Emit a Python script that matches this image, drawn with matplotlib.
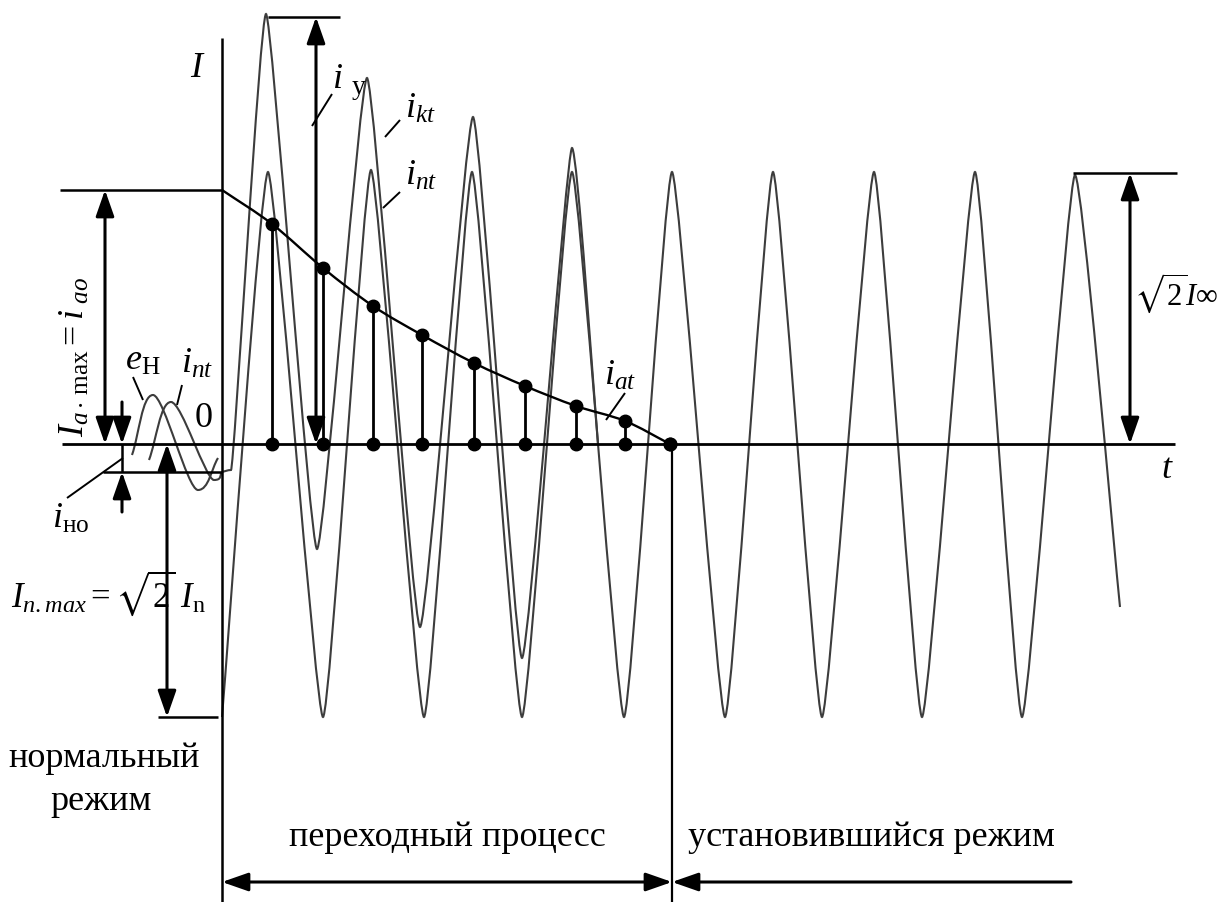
import numpy as np
import matplotlib
matplotlib.use("Agg")
import matplotlib.pyplot as plt
from matplotlib.path import Path
from matplotlib.patches import PathPatch, FancyArrowPatch

plt.rcParams['font.family'] = ['Liberation Serif', 'DejaVu Serif']
plt.rcParams['mathtext.fontset'] = 'custom'
plt.rcParams['mathtext.rm'] = 'Liberation Serif'
plt.rcParams['mathtext.it'] = 'Liberation Serif:italic'
plt.rcParams['mathtext.bf'] = 'Liberation Serif:bold'
plt.rcParams['mathtext.fallback'] = 'stix'

# ---------------- data (pixel-like units) ----------------
ZERO = 444
# pre-fault (normal mode) waves
eH_x = [132, 153, 198, 218]
eH_y = [455, 395, 490, 458]
inpre_x = [149, 171, 214, 222]
inpre_y = [460, 402, 480, 472]
# periodic component i_nt (transient + steady state)
int_x = [222, 268, 323, 371, 424, 472, 522, 572, 624, 672, 725, 773, 822, 874, 922, 975, 1022, 1075, 1120]
int_y = [717, 172, 717, 170, 717, 172, 717, 172, 717, 172, 717, 172, 717, 172, 717, 172, 717, 175, 607]
# total short-circuit current i_kt
ikt_x = [222, 231, 266, 317, 367, 420, 473, 522, 572, 598]
ikt_y = [472, 470, 14, 549, 78, 627, 117, 658, 148, 444]
# aperiodic component i_at
iat_x = [222, 272, 323, 373, 422, 474, 525, 576, 625, 670]
iat_y = [190, 224, 268, 306, 335, 363, 386, 406, 421, 444]
stem_x = iat_x[1:]
stem_y = iat_y[1:]

# --------------------------------------------------------------------------------
fig = plt.figure(figsize=(12.19, 9.02), dpi=100)
ax = fig.add_axes([0, 0, 1, 1])
ax.set_xlim(0, 1219)
ax.set_ylim(902, 0)
ax.axis('off')

WAVE = '#3c3c3c'


def smooth(xs, ys, tension=0.5, horizontal=True, **kw):
    pts = np.column_stack([xs, ys]).astype(float)
    n = len(pts)
    tans = []
    for i in range(n):
        if i == 0:
            t = pts[1] - pts[0]
        elif i == n - 1:
            t = pts[-1] - pts[-2]
        else:
            t = (pts[i + 1] - pts[i - 1]) / 2.0
            if horizontal:
                t = np.array([t[0], 0.0])
        tans.append(t)
    verts = [pts[0]]
    codes = [Path.MOVETO]
    for i in range(n - 1):
        c1 = pts[i] + tension * tans[i] / 3.0
        c2 = pts[i + 1] - tension * tans[i + 1] / 3.0
        verts += [c1, c2, pts[i + 1]]
        codes += [Path.CURVE4] * 3
    ax.add_patch(PathPatch(Path(verts, codes), fill=False, **kw))


def arrow(p0, p1, style='<|-|>', lw=2.2):
    ax.add_patch(FancyArrowPatch(p0, p1, arrowstyle=style + ',head_length=0.8,head_width=0.28',
                                 mutation_scale=20, shrinkA=0, shrinkB=0,
                                 color='black', lw=lw))


def line(x, y, lw=1.6, c='black'):
    ax.plot(x, y, color=c, lw=lw, solid_capstyle='butt')

# waves
smooth(int_x, int_y, tension=0.42, edgecolor=WAVE, lw=1.5)
smooth(ikt_x, ikt_y, tension=0.42, edgecolor=WAVE, lw=1.5)
smooth(eH_x, eH_y, tension=1.0, edgecolor=WAVE, lw=1.5)
smooth(inpre_x, inpre_y, tension=1.0, edgecolor=WAVE, lw=1.5)
smooth(iat_x, iat_y, tension=1.0, horizontal=False, edgecolor='black', lw=1.7)

# axes and helper lines
line([62, 1175], [ZERO, ZERO], lw=2.0)
line([222, 222], [38, 902], lw=1.8)
line([672, 672], [ZERO, 902], lw=1.6)
line([60, 222], [190, 190], lw=1.8)
line([103, 222], [472, 472], lw=1.8)
line([158, 218], [717, 717], lw=1.8)
line([268, 340], [17, 17], lw=1.8)
line([1073, 1177], [173, 173], lw=1.8)
line([122, 122], [ZERO, 472], lw=1.8)

# stems of i_at
for xs, ys in zip(stem_x, stem_y):
    line([xs, xs], [ys, ZERO], lw=2.0)
ax.plot(stem_x, stem_y, 'o', color='black', ms=9)
ax.plot(stem_x, [ZERO] * len(stem_x), 'o', color='black', ms=9)

# arrows
arrow((316, 17), (316, ZERO))
arrow((105, 190), (105, ZERO))
arrow((167, ZERO), (167, 717))
arrow((1130, 173), (1130, ZERO))
arrow((122, 402), (122, ZERO), style='-|>')
arrow((122, 512), (122, 472), style='-|>')
arrow((222, 882), (672, 882))
arrow((1071, 882), (672, 882), style='-|>')

# leader lines
for (x0, y0, x1, y1) in [(312, 126, 332, 94), (385, 137, 400, 120), (383, 208, 400, 192),
                         (606, 420, 625, 393), (133, 377, 143, 400), (182, 385, 177, 405),
                         (67, 498, 123, 458)]:
    line([x0, x1], [y0, y1], lw=1.4)

FS = 26
# labels
ax.text(196, 77, 'I', fontsize=FS, style='italic', ha='center', va='baseline')
ax.text(338, 88, 'i', fontsize=FS, style='italic', ha='center', va='baseline')
ax.text(359, 94, 'у', fontsize=20, ha='center', va='baseline')
ax.text(405, 118, r'$i_{kt}$', fontsize=FS, ha='left', va='baseline')
ax.text(405, 185, r'$i_{nt}$', fontsize=FS, ha='left', va='baseline')
ax.text(604, 385, r'$i_{at}$', fontsize=FS, ha='left', va='baseline')
ax.text(125, 370, r'$e_{\mathrm{Н}}$', fontsize=FS, ha='left', va='baseline')
ax.text(181, 373, r'$i_{nt}$', fontsize=FS, ha='left', va='baseline')
ax.text(204, 427, '0', fontsize=FS, ha='center', va='baseline')
ax.text(52, 528, r'$i_{\mathrm{но}}$', fontsize=FS, ha='left', va='baseline')
ax.text(11, 607, r'$I_{n.max}=\sqrt{2}\;I_{\mathrm{n}}$', fontsize=25, ha='left', va='baseline')
ax.text(1218, 305, r'$\sqrt{2}I\infty$', fontsize=22, ha='right', va='baseline')
ax.text(1166, 478, 't', fontsize=FS, style='italic', ha='center', va='baseline')
ax.text(84, 357, r'$I_{a\cdot\,\mathrm{max}} = i_{\ ao}$', fontsize=FS, rotation=90,
        rotation_mode='anchor', ha='center', va='baseline')
ax.text(104, 767, 'нормальный', fontsize=FS, ha='center', va='baseline')
ax.text(101, 810, 'режим', fontsize=FS, ha='center', va='baseline')
ax.text(447, 846, 'переходный процесс', fontsize=FS, ha='center', va='baseline')
ax.text(871, 846, 'установившийся режим', fontsize=FS, ha='center', va='baseline')

fig.savefig('out.png', dpi=100)
